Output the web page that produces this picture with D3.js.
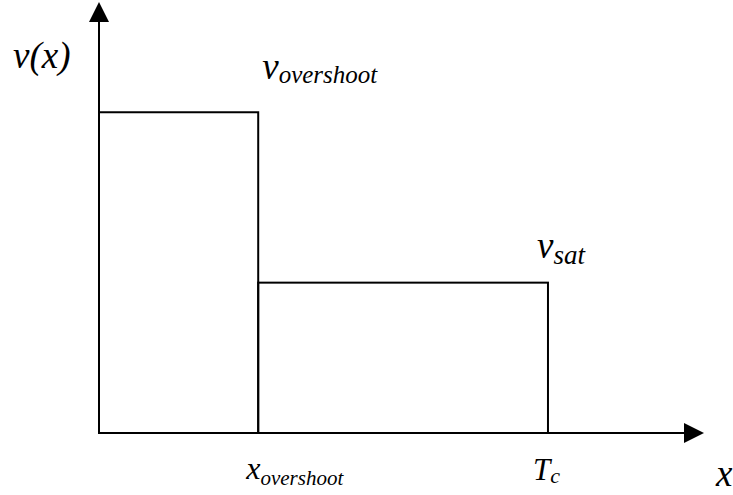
<!DOCTYPE html>
<html>
<head>
<meta charset="utf-8">
<script src="https://cdn.jsdelivr.net/npm/d3@7"></script>
<style>
  html, body { margin: 0; padding: 0; background: #fff; }
  svg { display: block; }
</style>
</head>
<body>
<svg id="chart" width="733" height="495"></svg>
<script>
// Piecewise-constant velocity profile: overshoot region, then saturation up to Tc
const segmentStarts = [0, 1.0];
const segmentEnds = [1.0, 2.82];
const segmentValues = [3.2, 1.5];
const segmentNames = ["overshoot", "sat"];
const xDomainMax = 3.8;
const yDomainMax = 4.3;
const xTickLabels = [{ at: 1.0, main: "x", sub: "overshoot" }, { at: 2.82, main: "T", sub: "c" }];

const svg = d3.select("#chart");
const x = d3.scaleLinear().domain([0, xDomainMax]).range([99, 704]);
const y = d3.scaleLinear().domain([0, yDomainMax]).range([433, 2]);

const stroke = "#000";
const lw = 2;

// Bars for each velocity segment
svg.append("g")
  .selectAll("rect")
  .data(segmentStarts.map((s, i) => ({ x0: s, x1: segmentEnds[i], v: segmentValues[i] })))
  .join("rect")
  .attr("x", d => x(d.x0))
  .attr("y", d => y(d.v))
  .attr("width", d => x(d.x1) - x(d.x0))
  .attr("height", d => y(0) - y(d.v))
  .attr("fill", "none")
  .attr("stroke", stroke)
  .attr("stroke-width", lw);

// Axes with arrow heads
const axisG = svg.append("g");
axisG.append("line")
  .attr("x1", x(0)).attr("x2", x(xDomainMax) - 18)
  .attr("y1", y(0)).attr("y2", y(0))
  .attr("stroke", stroke).attr("stroke-width", lw);
axisG.append("line")
  .attr("x1", x(0)).attr("x2", x(0))
  .attr("y1", y(0)).attr("y2", y(yDomainMax) + 18)
  .attr("stroke", stroke).attr("stroke-width", lw);
axisG.append("path")
  .attr("d", `M${x(xDomainMax)},${y(0)} L${x(xDomainMax) - 20},${y(0) - 10} L${x(xDomainMax) - 20},${y(0) + 10} Z`)
  .attr("fill", stroke);
axisG.append("path")
  .attr("d", `M${x(0)},${y(yDomainMax)} L${x(0) - 10},${y(yDomainMax) + 20} L${x(0) + 10},${y(yDomainMax) + 20} Z`)
  .attr("fill", stroke);

// Italic serif text helper
function itext(px, py, size) {
  return svg.append("text")
    .attr("x", px).attr("y", py)
    .style("font-family", '"Liberation Serif"')
    .style("font-style", "italic")
    .style("font-size", size + "px")
    .attr("fill", "#000");
}

// Label with a subscript
function subLabel(px, py, main, sub, mainSize, subSize, subDy) {
  const t = itext(px, py, mainSize);
  t.append("tspan").text(main);
  t.append("tspan").attr("dy", subDy).style("font-size", subSize + "px").text(sub);
  return t;
}

// Axis titles
itext(13, 68, 37).text("v(x)");
itext(716, 486, 37).text("x");

// Value labels above each segment
subLabel(x(segmentEnds[0]) + 4, y(segmentValues[0]) - 33, "v", segmentNames[0], 37, 25, 4);
subLabel(x(segmentEnds[1]) - 11, y(segmentValues[1]) - 25, "v", segmentNames[1], 37, 27, 6);

// Break-point labels below the x axis
subLabel(x(xTickLabels[0].at) - 12, 479, xTickLabels[0].main, xTickLabels[0].sub, 32, 21, 6);
subLabel(x(xTickLabels[1].at) - 15, 480, xTickLabels[1].main, xTickLabels[1].sub, 31, 22, 3);
</script>
</body>
</html>
